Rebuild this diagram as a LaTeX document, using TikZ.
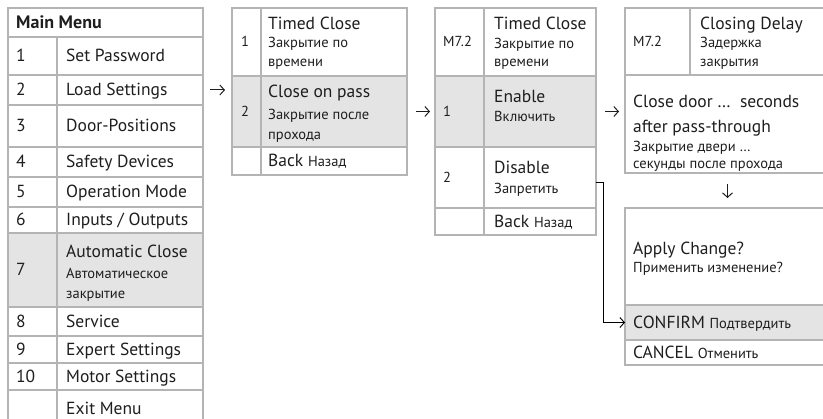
\documentclass[tikz,border=0pt]{standalone}
\usepackage{fontspec}
\setmainfont{PT Sans}
\usepackage{tikz}
\usetikzlibrary{arrows.meta}
\definecolor{cLine}{RGB}{180,180,180}
\definecolor{cShade}{RGB}{228,228,228}
\definecolor{cText}{RGB}{30,30,30}

\tikzset{
  cell/.style={draw=cLine, line width=1.1pt, anchor=north west, inner sep=0pt, outer sep=0pt},
  hot/.style={cell, fill=cShade},
  big/.style={anchor=base west, yshift=-6pt, inner sep=0pt, text=cText, font=\fontsize{17.5}{20}\selectfont},
  small/.style={big, yshift=1.5pt, font=\fontsize{14.5}{17}\selectfont},
  num/.style={big, yshift=1pt, font=\fontsize{14.5}{17}\selectfont},
  hop/.style={-{Straight Barb[length=4.5pt,width=10pt]}, line width=1pt, draw=cText},
  link/.style={-{Straight Barb[length=4.5pt,width=10pt]}, line width=0.9pt, draw=black},
}
\newcommand{\ru}[1]{{\fontsize{14.5}{17}\selectfont #1}}

\begin{document}
\begin{tikzpicture}[x=1pt, y=-1pt]
  \useasboundingbox (0,0) rectangle (823,419);
  \clip (0,0) rectangle (823,419);

  % ---- main menu ----
  \node[cell, minimum width=195pt, minimum height=29pt] (mmHead) at (8,8) {};
  \node[big, font=\fontsize{18}{20}\selectfont\bfseries] (mmTitle) at ([xshift=8pt]mmHead.west) {Main Menu};

  % rows: number / top / height / label
  \foreach \i/\yt/\hh/\lbl in {1/37/38/Set Password, 2/75/30/Load Settings,
      3/105/42/Door-Positions, 4/147/30/Safety Devices, 5/177/30/Operation Mode,
      6/207/26/{Inputs / Outputs}, 8/307/29/Service, 9/336/27/Expert Settings,
      10/363/27/Motor Settings}{
    \node[cell, minimum width=49pt, minimum height=\hh pt] (mmN\i) at (8,\yt) {};
    \node[cell, minimum width=146pt, minimum height=\hh pt] (mmL\i) at (57,\yt) {};
    \node[big] (mmNt\i) at ([xshift=8pt]mmN\i.west) {\i};
    \node[big] (mmLt\i) at ([xshift=9pt]mmL\i.west) {\lbl};
  }

  % row 7 (selected)
  \node[hot, minimum width=49pt, minimum height=74pt] (mmN7) at (8,233) {};
  \node[hot, minimum width=146pt, minimum height=74pt] (mmL7) at (57,233) {};
  \node[big] (mmNt7) at ([xshift=8pt]mmN7.west) {7};
  \node[big] (mmLt7a) at (66,252) {Automatic Close};
  \node[small] (mmLt7b) at (66,274) {Автоматическое};
  \node[small] (mmLt7c) at (66,294) {закрытие};

  % exit row (runs off the bottom)
  \node[cell, minimum width=49pt, minimum height=40pt] (mmN11) at (8,390) {};
  \node[cell, minimum width=146pt, minimum height=40pt] (mmL11) at (57,390) {};
  \node[big] (mmLt11) at (66,409) {Exit Menu};

  % ---- submenu 7: automatic close ----
  \node[cell, minimum width=29pt, minimum height=68pt] (pN1) at (232,8) {};
  \node[cell, minimum width=146pt, minimum height=68pt] (pT1) at (261,8) {};
  \node[hot, minimum width=29pt, minimum height=71pt] (pN2) at (232,76) {};
  \node[hot, minimum width=146pt, minimum height=71pt] (pT2) at (261,76) {};
  \node[cell, minimum width=29pt, minimum height=28pt] (pN3) at (232,147) {};
  \node[cell, minimum width=146pt, minimum height=28pt] (pT3) at (261,147) {};

  \node[num] (pNt1) at ([xshift=9pt]pN1.west) {1};
  \node[big] (pT1a) at (268,24) {Timed Close};
  \node[small] (pT1b) at (268,43) {Закрытие по};
  \node[small] (pT1c) at (268,62) {времени};
  \node[num] (pNt2) at ([xshift=9pt]pN2.west) {2};
  \node[big] (pT2a) at (268,92) {Close on pass};
  \node[small] (pT2b) at (268,115) {Закрытие после};
  \node[small] (pT2c) at (268,135) {прохода};
  \node[big] (pT3a) at ([xshift=7pt]pT3.west) {Back \ru{Назад}};

  % ---- submenu 7.2: close on pass ----
  \node[cell, minimum width=49pt, minimum height=68pt] (qN1) at (435,8) {};
  \node[cell, minimum width=112pt, minimum height=68pt] (qT1) at (484,8) {};
  \node[hot, minimum width=49pt, minimum height=71pt] (qN2) at (435,76) {};
  \node[hot, minimum width=112pt, minimum height=71pt] (qT2) at (484,76) {};
  \node[cell, minimum width=49pt, minimum height=61pt] (qN3) at (435,147) {};
  \node[cell, minimum width=112pt, minimum height=61pt] (qT3) at (484,147) {};
  \node[cell, minimum width=49pt, minimum height=27pt] (qN4) at (435,208) {};
  \node[cell, minimum width=112pt, minimum height=27pt] (qT4) at (484,208) {};

  \node[num] (qNt1) at ([xshift=8pt]qN1.west) {M7.2};
  \node[big] (qT1a) at (494,24) {Timed Close};
  \node[small] (qT1b) at (494,44) {Закрытие по};
  \node[small] (qT1c) at (494,62) {времени};
  \node[num] (qNt2) at ([xshift=8pt]qN2.west) {1};
  \node[big] (qT2a) at (494,97) {Enable};
  \node[small] (qT2b) at (494,117) {Включить};
  \node[num] (qNt3) at ([xshift=8pt]qN3.west) {2};
  \node[big] (qT3a) at (494,168) {Disable};
  \node[small] (qT3b) at (494,189) {Запретить};
  \node[big] (qT4a) at ([xshift=10pt]qT4.west) {Back \ru{Назад}};

  % ---- closing delay ----
  \node[cell, minimum width=65pt, minimum height=67pt] (dN) at (625,8) {};
  \node[cell, minimum width=150pt, minimum height=67pt] (dT) at (690,8) {};
  \node[cell, minimum width=215pt, minimum height=98pt] (dLow) at (625,75) {};

  \node[num] (dNt) at ([xshift=8pt]dN.west) {M7.2};
  \node[big] (dTa) at (700,24) {Closing Delay};
  \node[small] (dTb) at (700,43) {Задержка};
  \node[small] (dTc) at (700,62) {закрытия};
  \node[big] (dLa) at (633,102) {Close door …\ \ seconds};
  \node[big] (dLb) at (633,127) {after pass-through};
  \node[small] (dLc) at (633,147) {Закрытие двери …};
  \node[small] (dLd) at (633,164) {секунды после прохода};

  % ---- apply change ----
  \node[cell, minimum width=215pt, minimum height=97pt] (aTop) at (625,208) {};
  \node[hot, minimum width=215pt, minimum height=35pt] (aOk) at (625,305) {};
  \node[cell, minimum width=215pt, minimum height=25pt] (aNo) at (625,340) {};

  \node[big] (aTa) at (633,249) {Apply Change?};
  \node[small] (aTb) at (633,268) {Применить изменение?};
  \node[big] (aOkt) at ([xshift=8pt]aOk.west) {CONFIRM \ru{Подтвердить}};
  \node[big] (aNot) at ([xshift=8pt]aNo.west) {CANCEL \ru{Отменить}};

  % ---- arrows ----
  \draw[hop] ([xshift=7pt]mmL2.east) -- ([xshift=-7pt]mmL2.east -| pN1.west);
  \draw[hop] ([xshift=9pt]pT2.east) -- ([xshift=-5pt]qN2.west);
  \draw[hop] ([xshift=9pt]qT2.east) -- ([xshift=-6pt]qT2.east -| dLow.west);
  \draw[hop] ([xshift=-5pt,yshift=-11pt]dLow.south) -- ([xshift=-5pt,yshift=10pt]aTop.north);
  \draw[link] ([yshift=-4.5pt]qT3.east) -- ++(7,0) |- (aOk.west);

\end{tikzpicture}
\end{document}
